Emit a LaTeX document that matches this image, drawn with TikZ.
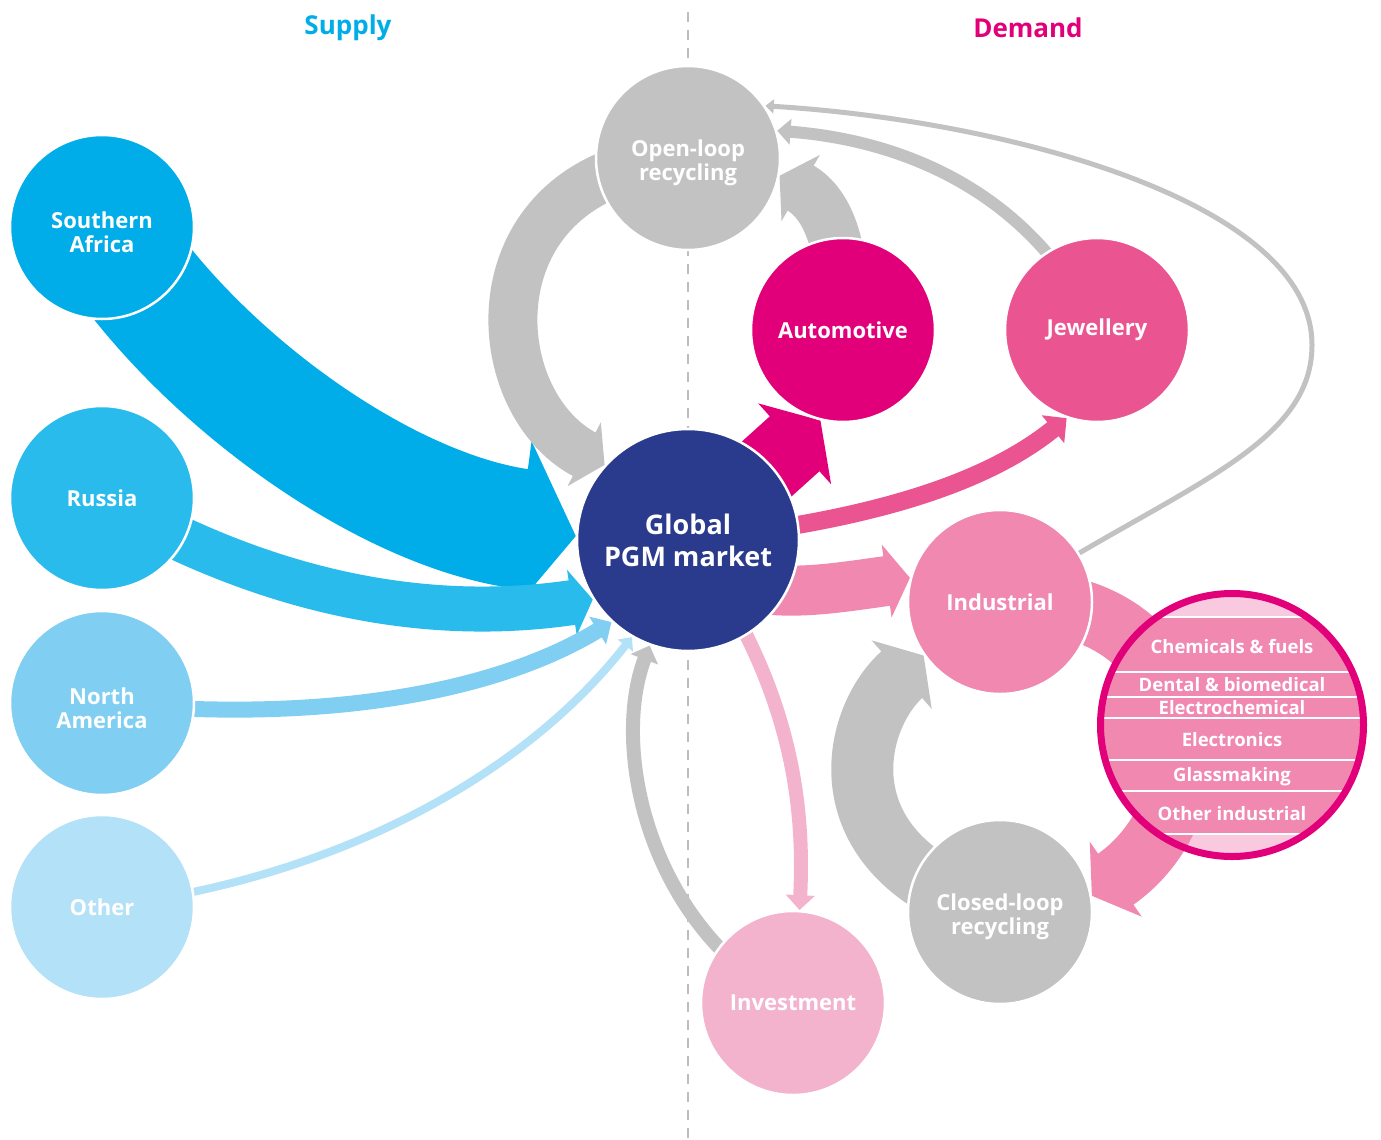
\documentclass[tikz,border=0pt]{standalone}
\usepackage{fontspec}
\setmainfont{Open Sans}
\usetikzlibrary{arrows.meta}
\pgfdeclarelayer{back}
\pgfsetlayers{back,main}

\definecolor{southcol}{HTML}{00ADE8}
\definecolor{russiacol}{HTML}{29BBEC}
\definecolor{namcol}{HTML}{80CFF3}
\definecolor{othercol}{HTML}{B3E1F7}
\definecolor{pgmcol}{HTML}{2A3B8D}
\definecolor{greycol}{HTML}{C2C2C2}
\definecolor{dashcol}{HTML}{BDBDBD}
\definecolor{autocol}{HTML}{E2007A}
\definecolor{jewelcol}{HTML}{EA5591}
\definecolor{indcol}{HTML}{F088AF}
\definecolor{lightind}{HTML}{F9C9E0}
\definecolor{invcol}{HTML}{F3B3CD}

% two-line label, set a little below the centre
\newcommand{\twolines}[2]{\rule{0pt}{27pt}#1\\#2}

\tikzset{
  blob/.style={circle, minimum size=184pt, inner sep=0pt, draw=white, line width=2.5pt,
    text=white, align=center, font=\fontsize{22}{24}\selectfont\bfseries},
  flow/.style={line width=#1, -{Triangle[length=0pt 0.47, width=0pt 1.45]}},
  thinflow/.style={line width=#1, -{Triangle[length=5pt 0.7, width=6pt 1.6]}},
  sublabel/.style={text=white, font=\fontsize{18.5}{20}\selectfont\bfseries},
  heading/.style={font=\fontsize{26}{30}\selectfont\bfseries}
}

\begin{document}
\begin{tikzpicture}[x=1pt, y=-1pt]
\useasboundingbox (0,0) rectangle (1381,1140);

% headings
\node[heading, text=southcol] (supply) at (348,28) {Supply};
\node[heading, text=autocol] (demand) at (1028,28) {Demand};

% supply side
\node[blob, fill=southcol] (sa) at (102,227) {\twolines{Southern}{Africa}};
\node[blob, fill=russiacol] (ru) at (102,498) {Russia};
\node[blob, fill=namcol] (na) at (102,703) {\twolines{North}{America}};
\node[blob, fill=othercol] (ot) at (102,907) {Other};

% market
\node[blob, fill=pgmcol, minimum size=222pt, font=\fontsize{27}{32}\selectfont\bfseries] (pgm) at (688,540) {Global\\PGM market};

% demand side
\node[blob, fill=greycol] (olr) at (688,158) {\twolines{Open-loop}{recycling}};
\node[blob, fill=autocol] (auto) at (843,330) {Automotive};
\node[blob, fill=jewelcol] (jew) at (1097,330) {Jewellery};
\node[blob, fill=indcol] (ind) at (1000,602) {Industrial};
\node[blob, fill=greycol] (clr) at (1000,912) {\twolines{Closed-loop}{recycling}};
\node[blob, fill=invcol] (inv) at (793,1003) {Investment};

\begin{pgfonlayer}{back}
\draw[dashcol, line width=2.5pt, dash pattern=on 10pt off 8pt] (688,12) -- (688,1140);
% supply flows
\draw[southcol, flow=120pt] (sa.center) .. controls (190,370) and (380,510) .. (pgm.178);
\draw[russiacol, flow=45pt] (ru.center) .. controls (260,590) and (420,625) .. (pgm.212);
\draw[namcol, thinflow=16pt] (na.center) .. controls (330,725) and (500,690) .. (pgm.227);
\draw[othercol, thinflow=8pt] (ot.center) .. controls (330,880) and (520,780) .. (pgm.240);
% recycling flows
\draw[greycol, flow=49pt] (olr.center) .. controls (470,170) and (480,400) .. (pgm.138);
\draw[greycol, flow=52pt] (auto.center) .. controls (845,250) and (830,205) .. (olr.-11);
\draw[greycol, thinflow=12pt] (jew.center) .. controls (1030,190) and (900,140) .. (olr.17);
\draw[greycol, thinflow=5pt] (ind.center) .. controls (1170,490) and (1312,450) .. (1312,345)
  .. controls (1312,200) and (1000,120) .. (olr.34);
\draw[greycol, thinflow=14pt] (inv.center) .. controls (650,930) and (610,750) .. (pgm.250);
\draw[greycol, flow=62pt] (clr.center) .. controls (820,860) and (850,720) .. (ind.215);
% demand flows
\draw[autocol, flow=74pt] (pgm.center) -- (auto.256);
\draw[jewelcol, thinflow=18pt] (pgm.center) .. controls (880,520) and (990,480) .. (jew.251);
\draw[indcol, flow=50pt] (pgm.center) .. controls (720,610) and (820,590) .. (ind.165);
\draw[invcol, thinflow=14pt] (pgm.center) .. controls (790,680) and (805,800) .. (inv.86);
% industrial breakdown
\node[circle, minimum size=262pt, inner sep=0pt, fill=lightind] (sub) at (1232,725) {};
\begin{scope}
  \clip (sub.center) circle (131pt);
  \fill[indcol] (1090,617) rectangle (1380,834);
\end{scope}
\draw[indcol, flow=62pt] (ind.center) .. controls (1200,590) and (1230,800) .. (clr.10);
\end{pgfonlayer}

\begin{scope}
  \clip (sub.center) circle (131pt);
  \foreach \yy in {617,672,697,718,760,791,834}
    \draw[white, line width=1.5pt] (1090,\yy) -- (1380,\yy);
\end{scope}
\node[sublabel] (chem) at (1232,647) {Chemicals \& fuels};
\node[sublabel] (dent) at (1232,685) {Dental \& biomedical};
\node[sublabel] (elch) at (1232,708) {Electrochemical};
\node[sublabel] (elec) at (1232,740) {Electronics};
\node[sublabel] (glas) at (1232,777) {Glassmaking};
\node[sublabel] (othi) at (1232,814) {Other industrial};
\draw[autocol, line width=7pt] (sub.center) circle (131.5pt);
\end{tikzpicture}
\end{document}
